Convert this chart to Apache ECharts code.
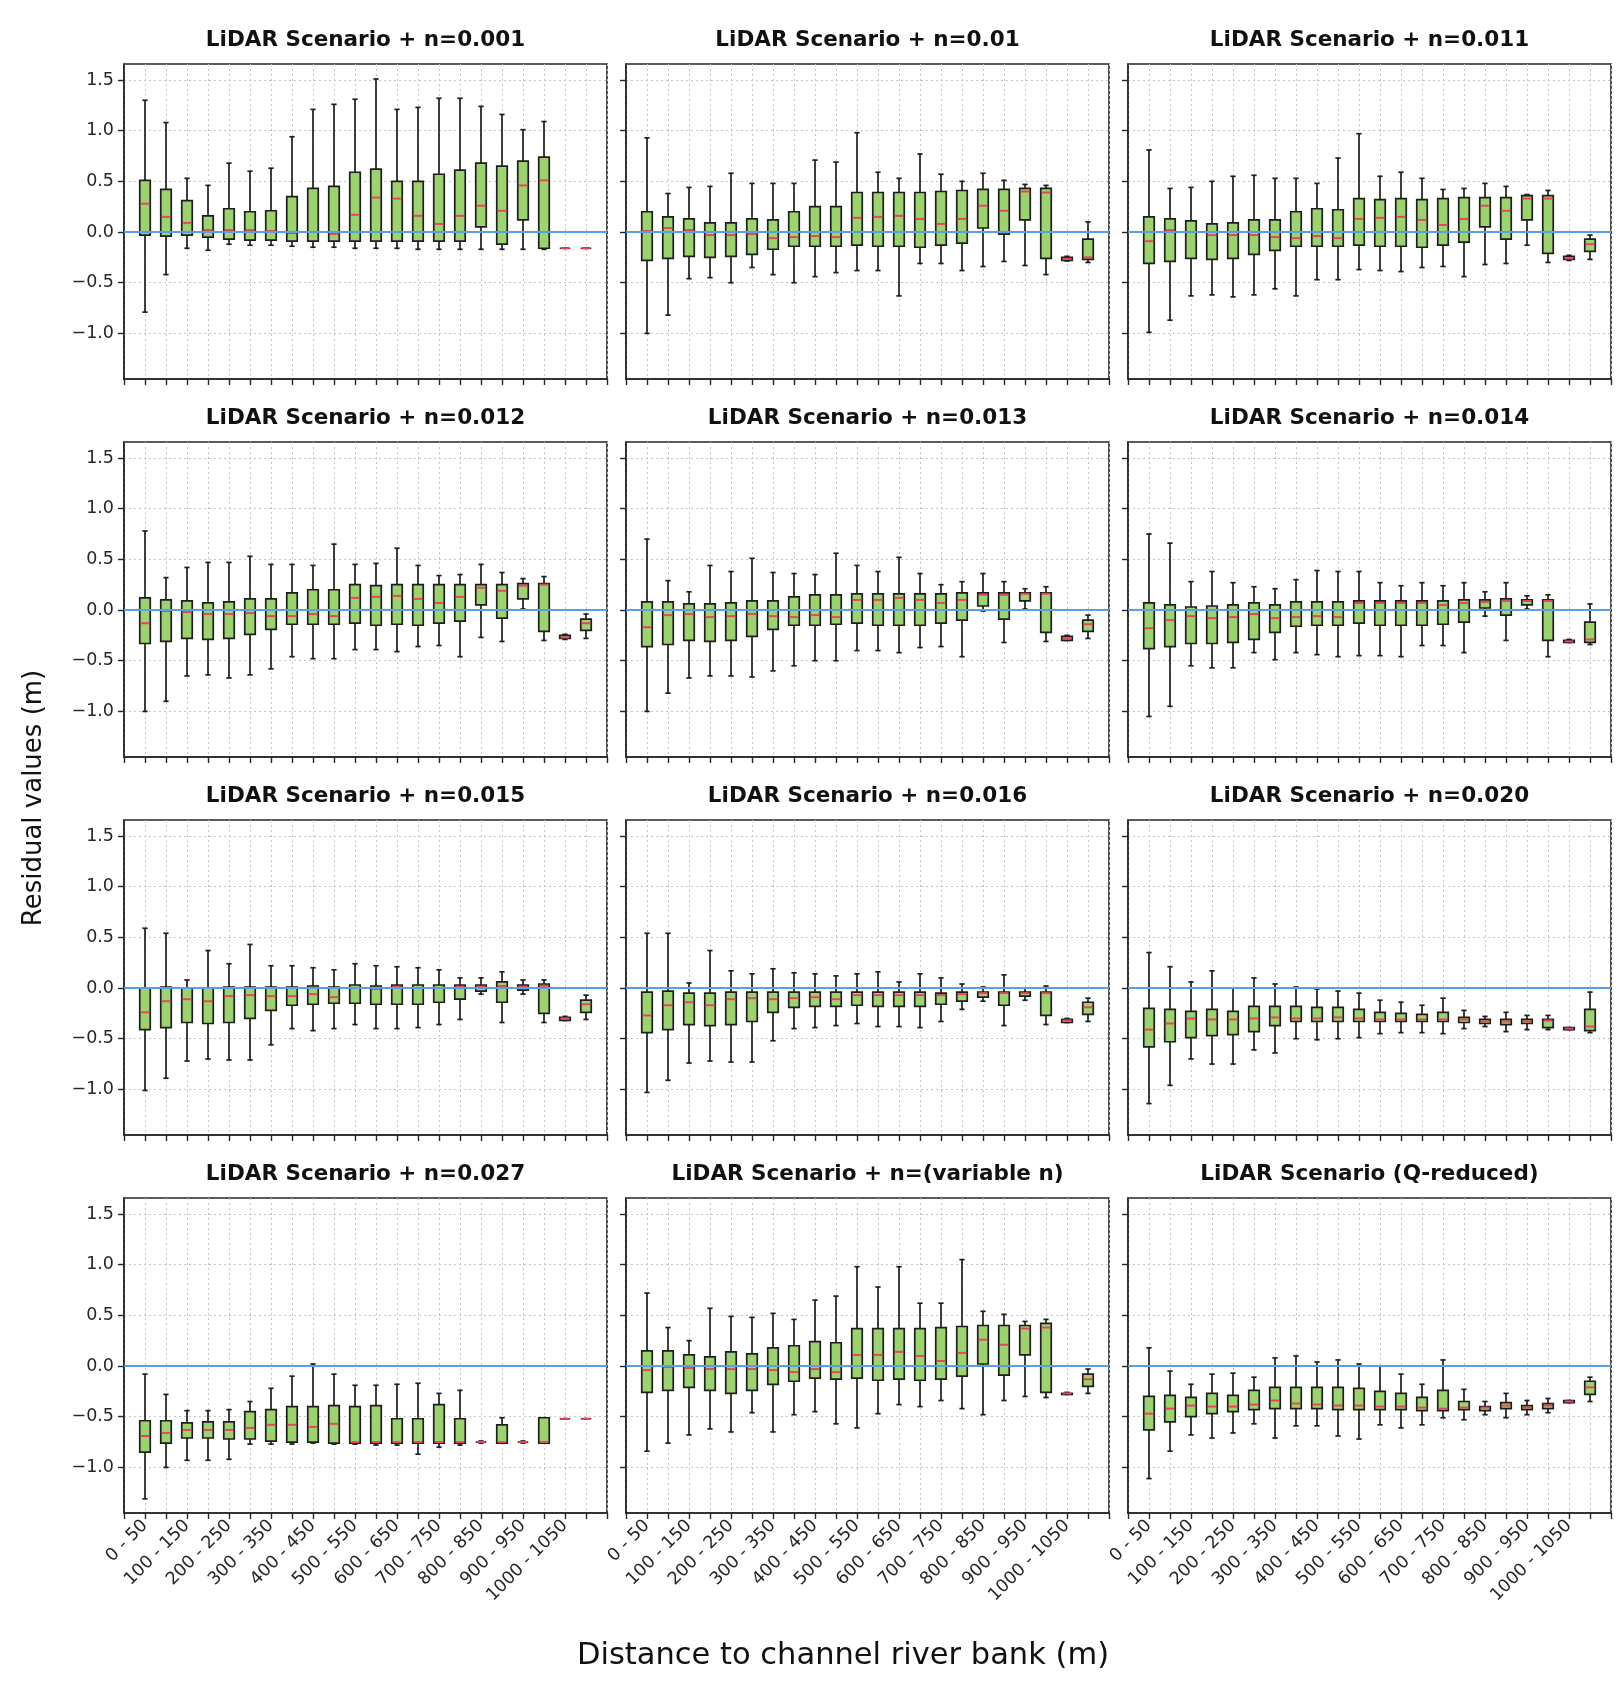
<!DOCTYPE html>
<html>
<head>
<meta charset="utf-8">
<script src="https://cdn.jsdelivr.net/npm/echarts@6/dist/echarts.min.js"></script>
<style>
html,body{margin:0;padding:0;background:#fff;}
#chart{width:1624px;height:1698px;}
</style>
</head>
<body>
<div id="chart"></div>
<script>
// ---------------- DATA ----------------
// distance bins (box positions 1..22)
const distanceBins = ['0 - 50','50 - 100','100 - 150','150 - 200','200 - 250','250 - 300','300 - 350','350 - 400',
  '400 - 450','450 - 500','500 - 550','550 - 600','600 - 650','650 - 700','700 - 750','750 - 800',
  '800 - 850','850 - 900','900 - 950','950 - 1000','1000 - 1050','1050 - 1100'];
const yTickValues = [-1.0, -0.5, 0.0, 0.5, 1.0, 1.5];
const panelTitles = ['LiDAR Scenario + n=0.001','LiDAR Scenario + n=0.01','LiDAR Scenario + n=0.011',
  'LiDAR Scenario + n=0.012','LiDAR Scenario + n=0.013','LiDAR Scenario + n=0.014',
  'LiDAR Scenario + n=0.015','LiDAR Scenario + n=0.016','LiDAR Scenario + n=0.020',
  'LiDAR Scenario + n=0.027','LiDAR Scenario + n=(variable n)','LiDAR Scenario (Q-reduced)'];
const xAxisTitle = 'Distance to channel river bank (m)';
const yAxisTitle = 'Residual values (m)';

// each box: [lower whisker, Q1, median, Q3, upper whisker]
const n0001 = [[-0.79,-0.03,0.28,0.51,1.30],[-0.42,-0.04,0.15,0.42,1.08],[-0.16,-0.03,0.09,0.31,0.53],[-0.18,-0.05,0.02,0.16,0.46],
  [-0.12,-0.07,0.02,0.23,0.68],[-0.13,-0.08,0.02,0.20,0.60],[-0.13,-0.08,0.01,0.21,0.63],[-0.14,-0.09,-0.01,0.35,0.94],
  [-0.15,-0.09,0.00,0.43,1.21],[-0.15,-0.09,-0.02,0.45,1.26],[-0.16,-0.09,0.17,0.59,1.31],[-0.16,-0.09,0.34,0.62,1.51],
  [-0.16,-0.09,0.33,0.50,1.21],[-0.17,-0.09,0.16,0.50,1.23],[-0.17,-0.09,0.08,0.57,1.32],[-0.17,-0.09,0.16,0.61,1.32],
  [-0.17,0.05,0.26,0.68,1.24],[-0.17,-0.12,0.21,0.65,1.16],[-0.17,0.12,0.46,0.70,1.01],[-0.17,-0.16,0.51,0.74,1.09],
  [-0.16,-0.16,-0.16,-0.16,-0.16],[-0.16,-0.16,-0.16,-0.16,-0.16]];
const n0010 = [[-1.00,-0.28,0.01,0.20,0.93],[-0.82,-0.26,0.04,0.15,0.38],[-0.46,-0.24,0.02,0.13,0.44],[-0.45,-0.25,-0.03,0.09,0.45],
  [-0.50,-0.24,-0.03,0.09,0.58],[-0.35,-0.22,-0.02,0.13,0.48],[-0.42,-0.17,-0.06,0.12,0.48],[-0.50,-0.14,-0.05,0.20,0.48],
  [-0.44,-0.14,-0.04,0.25,0.71],[-0.40,-0.14,-0.05,0.25,0.69],[-0.38,-0.13,0.14,0.39,0.98],[-0.38,-0.14,0.15,0.39,0.59],
  [-0.63,-0.14,0.16,0.39,0.53],[-0.31,-0.15,0.13,0.39,0.77],[-0.31,-0.13,0.08,0.40,0.57],[-0.38,-0.11,0.13,0.41,0.50],
  [-0.34,0.04,0.26,0.42,0.58],[-0.29,-0.02,0.21,0.42,0.51],[-0.33,0.12,0.40,0.43,0.47],[-0.42,-0.26,0.39,0.43,0.46],
  [-0.285,-0.28,-0.265,-0.25,-0.24],[-0.30,-0.27,-0.25,-0.07,0.10]];
const n0011 = [[-0.99,-0.31,-0.09,0.15,0.81],[-0.87,-0.29,0.02,0.13,0.43],[-0.63,-0.26,0.00,0.11,0.44],[-0.62,-0.27,-0.03,0.08,0.50],
  [-0.64,-0.26,-0.03,0.09,0.55],[-0.62,-0.22,-0.03,0.12,0.56],[-0.56,-0.18,-0.05,0.12,0.53],[-0.63,-0.14,-0.06,0.20,0.53],
  [-0.47,-0.14,-0.04,0.23,0.48],[-0.47,-0.14,-0.06,0.22,0.73],[-0.37,-0.13,0.13,0.33,0.97],[-0.38,-0.14,0.14,0.32,0.55],
  [-0.39,-0.14,0.15,0.33,0.59],[-0.35,-0.15,0.12,0.32,0.53],[-0.34,-0.13,0.07,0.33,0.42],[-0.44,-0.10,0.13,0.34,0.43],
  [-0.32,0.05,0.26,0.34,0.48],[-0.31,-0.07,0.21,0.34,0.45],[-0.13,0.12,0.33,0.36,0.37],[-0.30,-0.21,0.33,0.36,0.41],
  [-0.28,-0.27,-0.26,-0.24,-0.23],[-0.27,-0.19,-0.12,-0.07,-0.03]];
const n0012 = [[-1.00,-0.33,-0.13,0.12,0.78],[-0.90,-0.31,-0.01,0.10,0.32],[-0.65,-0.28,-0.02,0.09,0.42],[-0.64,-0.29,-0.04,0.07,0.47],
  [-0.67,-0.28,-0.04,0.08,0.47],[-0.64,-0.24,-0.03,0.11,0.53],[-0.58,-0.19,-0.06,0.11,0.45],[-0.46,-0.14,-0.06,0.17,0.45],
  [-0.48,-0.14,-0.04,0.20,0.44],[-0.48,-0.14,-0.06,0.20,0.65],[-0.39,-0.13,0.12,0.25,0.45],[-0.39,-0.15,0.13,0.24,0.46],
  [-0.41,-0.14,0.14,0.25,0.61],[-0.36,-0.15,0.11,0.25,0.44],[-0.35,-0.13,0.07,0.25,0.34],[-0.46,-0.11,0.13,0.25,0.35],
  [-0.27,0.05,0.22,0.25,0.45],[-0.31,-0.08,0.19,0.25,0.37],[0.01,0.11,0.24,0.26,0.31],[-0.30,-0.21,0.25,0.26,0.33],
  [-0.29,-0.28,-0.27,-0.25,-0.24],[-0.28,-0.20,-0.13,-0.09,-0.04]];
const n0013 = [[-1.00,-0.36,-0.17,0.08,0.70],[-0.82,-0.34,-0.05,0.08,0.29],[-0.67,-0.30,-0.04,0.06,0.18],[-0.65,-0.31,-0.07,0.06,0.44],
  [-0.65,-0.30,-0.06,0.07,0.38],[-0.66,-0.26,-0.04,0.09,0.51],[-0.60,-0.19,-0.06,0.09,0.37],[-0.55,-0.15,-0.07,0.13,0.36],
  [-0.50,-0.15,-0.05,0.15,0.35],[-0.50,-0.14,-0.07,0.15,0.56],[-0.40,-0.13,0.10,0.16,0.44],[-0.40,-0.15,0.10,0.16,0.38],
  [-0.42,-0.15,0.12,0.16,0.52],[-0.37,-0.15,0.10,0.16,0.36],[-0.36,-0.13,0.07,0.16,0.25],[-0.46,-0.10,0.10,0.17,0.28],
  [-0.01,0.04,0.15,0.17,0.36],[-0.32,-0.09,0.15,0.17,0.28],[0.01,0.09,0.16,0.17,0.21],[-0.31,-0.22,0.16,0.17,0.23],
  [-0.30,-0.30,-0.28,-0.26,-0.25],[-0.28,-0.21,-0.14,-0.10,-0.05]];
const n0014 = [[-1.05,-0.38,-0.18,0.07,0.75],[-0.95,-0.36,-0.10,0.05,0.66],[-0.55,-0.33,-0.06,0.03,0.28],[-0.57,-0.33,-0.08,0.04,0.38],
  [-0.57,-0.32,-0.07,0.05,0.27],[-0.42,-0.29,-0.04,0.07,0.23],[-0.49,-0.22,-0.08,0.05,0.21],[-0.42,-0.16,-0.07,0.08,0.30],
  [-0.44,-0.15,-0.06,0.08,0.39],[-0.46,-0.15,-0.07,0.08,0.38],[-0.45,-0.13,0.07,0.09,0.38],[-0.45,-0.15,0.07,0.09,0.27],
  [-0.46,-0.15,0.07,0.09,0.24],[-0.35,-0.15,0.07,0.09,0.27],[-0.35,-0.14,0.05,0.09,0.24],[-0.42,-0.12,0.07,0.10,0.27],
  [-0.06,0.02,0.08,0.10,0.18],[-0.30,-0.05,0.09,0.11,0.27],[0.01,0.05,0.09,0.10,0.14],[-0.46,-0.30,0.09,0.10,0.15],
  [-0.32,-0.32,-0.31,-0.30,-0.29],[-0.34,-0.32,-0.29,-0.12,0.06]];
const n0015 = [[-1.01,-0.41,-0.24,0.00,0.59],[-0.89,-0.39,-0.13,0.01,0.54],[-0.72,-0.34,-0.11,0.00,0.08],[-0.70,-0.35,-0.13,0.00,0.37],
  [-0.71,-0.34,-0.08,0.01,0.24],[-0.71,-0.30,-0.07,0.01,0.43],[-0.56,-0.22,-0.08,0.01,0.22],[-0.40,-0.17,-0.08,0.01,0.22],
  [-0.42,-0.16,-0.06,0.02,0.20],[-0.40,-0.15,-0.09,0.01,0.18],[-0.36,-0.15,0.00,0.03,0.24],[-0.40,-0.16,-0.01,0.02,0.22],
  [-0.40,-0.16,0.01,0.03,0.21],[-0.39,-0.16,0.00,0.03,0.20],[-0.36,-0.14,0.00,0.03,0.18],[-0.31,-0.11,0.01,0.03,0.10],
  [-0.06,-0.03,0.01,0.03,0.10],[-0.34,-0.14,0.02,0.06,0.16],[-0.06,-0.02,0.01,0.03,0.08],[-0.34,-0.25,0.02,0.04,0.08],
  [-0.32,-0.32,-0.30,-0.29,-0.28],[-0.31,-0.24,-0.16,-0.12,-0.07]];
const n0016 = [[-1.03,-0.44,-0.27,-0.04,0.54],[-0.91,-0.41,-0.17,-0.03,0.54],[-0.74,-0.36,-0.14,-0.05,0.05],[-0.72,-0.37,-0.17,-0.05,0.37],
  [-0.73,-0.36,-0.11,-0.04,0.17],[-0.73,-0.33,-0.10,-0.04,0.14],[-0.52,-0.24,-0.11,-0.04,0.19],[-0.40,-0.19,-0.10,-0.04,0.15],
  [-0.39,-0.18,-0.09,-0.04,0.14],[-0.37,-0.18,-0.11,-0.04,0.12],[-0.35,-0.17,-0.07,-0.04,0.14],[-0.38,-0.18,-0.07,-0.04,0.16],
  [-0.38,-0.18,-0.07,-0.04,0.06],[-0.39,-0.18,-0.07,-0.04,0.14],[-0.33,-0.16,-0.07,-0.05,0.10],[-0.21,-0.13,-0.06,-0.04,0.04],
  [-0.13,-0.09,-0.05,-0.04,0.01],[-0.37,-0.17,-0.05,-0.04,0.13],[-0.12,-0.08,-0.05,-0.04,0.00],[-0.36,-0.27,-0.05,-0.04,0.02],
  [-0.34,-0.34,-0.32,-0.31,-0.30],[-0.33,-0.26,-0.19,-0.14,-0.10]];
const n0020 = [[-1.14,-0.58,-0.41,-0.20,0.35],[-0.96,-0.53,-0.35,-0.21,0.21],[-0.70,-0.49,-0.30,-0.23,0.06],[-0.75,-0.47,-0.31,-0.21,0.17],
  [-0.75,-0.46,-0.31,-0.23,0.00],[-0.61,-0.43,-0.30,-0.18,0.10],[-0.64,-0.37,-0.29,-0.18,0.04],[-0.50,-0.33,-0.30,-0.18,0.01],
  [-0.51,-0.33,-0.30,-0.19,-0.01],[-0.50,-0.33,-0.29,-0.19,-0.03],[-0.49,-0.33,-0.30,-0.21,-0.05],[-0.45,-0.33,-0.31,-0.24,-0.12],
  [-0.44,-0.33,-0.31,-0.25,-0.14],[-0.44,-0.33,-0.31,-0.26,-0.17],[-0.45,-0.33,-0.31,-0.24,-0.10],[-0.40,-0.34,-0.31,-0.29,-0.22],
  [-0.38,-0.35,-0.33,-0.31,-0.28],[-0.43,-0.36,-0.33,-0.31,-0.24],[-0.41,-0.35,-0.33,-0.31,-0.27],[-0.41,-0.39,-0.32,-0.31,-0.27],
  [-0.41,-0.41,-0.40,-0.39,-0.39],[-0.44,-0.42,-0.38,-0.21,-0.04]];
const n0027 = [[-1.31,-0.85,-0.69,-0.54,-0.08],[-1.00,-0.76,-0.66,-0.54,-0.28],[-0.93,-0.71,-0.63,-0.56,-0.44],[-0.93,-0.71,-0.63,-0.55,-0.44],
  [-0.92,-0.72,-0.63,-0.55,-0.43],[-0.77,-0.72,-0.61,-0.45,-0.35],[-0.77,-0.74,-0.58,-0.43,-0.22],[-0.77,-0.75,-0.58,-0.40,-0.10],
  [-0.76,-0.75,-0.60,-0.40,0.02],[-0.77,-0.76,-0.57,-0.39,-0.08],[-0.77,-0.76,-0.75,-0.40,-0.19],[-0.78,-0.76,-0.75,-0.39,-0.19],
  [-0.78,-0.76,-0.75,-0.52,-0.18],[-0.87,-0.76,-0.75,-0.52,-0.17],[-0.80,-0.76,-0.75,-0.38,-0.27],[-0.78,-0.76,-0.75,-0.52,-0.24],
  [-0.76,-0.75,-0.75,-0.75,-0.74],[-0.76,-0.76,-0.75,-0.58,-0.51],[-0.76,-0.75,-0.75,-0.75,-0.74],[-0.76,-0.76,-0.75,-0.51,-0.51],
  [-0.52,-0.52,-0.52,-0.52,-0.52],[-0.52,-0.52,-0.52,-0.52,-0.52]];
const nVariable = [[-0.84,-0.26,-0.04,0.15,0.72],[-0.76,-0.24,-0.01,0.15,0.38],[-0.68,-0.21,-0.02,0.11,0.25],[-0.62,-0.24,-0.03,0.09,0.57],
  [-0.65,-0.27,-0.03,0.14,0.49],[-0.46,-0.24,-0.03,0.12,0.48],[-0.65,-0.18,-0.04,0.18,0.52],[-0.48,-0.15,-0.06,0.20,0.46],
  [-0.45,-0.12,-0.03,0.24,0.65],[-0.57,-0.13,-0.06,0.23,0.69],[-0.61,-0.12,0.11,0.37,0.98],[-0.47,-0.14,0.11,0.37,0.78],
  [-0.38,-0.13,0.14,0.37,0.98],[-0.40,-0.14,0.10,0.37,0.62],[-0.34,-0.13,0.05,0.38,0.62],[-0.42,-0.10,0.13,0.39,1.05],
  [-0.48,0.02,0.26,0.40,0.54],[-0.34,-0.09,0.21,0.40,0.51],[-0.30,0.11,0.37,0.40,0.44],[-0.31,-0.26,0.38,0.42,0.46],
  [-0.28,-0.28,-0.27,-0.27,-0.26],[-0.27,-0.20,-0.13,-0.08,-0.03]];
const qReduced = [[-1.11,-0.63,-0.47,-0.30,0.18],[-0.84,-0.55,-0.42,-0.29,-0.05],[-0.68,-0.50,-0.39,-0.31,-0.18],[-0.71,-0.47,-0.40,-0.27,-0.08],
  [-0.66,-0.45,-0.40,-0.29,-0.07],[-0.57,-0.43,-0.38,-0.24,-0.11],[-0.71,-0.42,-0.34,-0.21,0.08],[-0.59,-0.42,-0.37,-0.21,0.10],
  [-0.59,-0.42,-0.38,-0.21,0.04],[-0.69,-0.43,-0.39,-0.21,0.06],[-0.72,-0.43,-0.39,-0.22,0.02],[-0.58,-0.43,-0.40,-0.25,0.00],
  [-0.61,-0.43,-0.40,-0.27,-0.08],[-0.58,-0.44,-0.41,-0.31,-0.18],[-0.51,-0.44,-0.42,-0.24,0.06],[-0.53,-0.43,-0.41,-0.35,-0.23],
  [-0.48,-0.44,-0.41,-0.40,-0.35],[-0.51,-0.42,-0.39,-0.36,-0.27],[-0.48,-0.43,-0.41,-0.39,-0.34],[-0.46,-0.42,-0.39,-0.37,-0.32],
  [-0.36,-0.36,-0.35,-0.34,-0.34],[-0.35,-0.28,-0.21,-0.15,-0.11]];

const panelData = [n0001, n0010, n0011, n0012, n0013, n0014, n0015, n0016, n0020, n0027, nVariable, qReduced];

// ---------------- LAYOUT / STYLE ----------------
const FONT = '"DejaVu Sans", "Liberation Sans", sans-serif';
const colLeft = [124, 626, 1128];
const rowTop = [64, 442, 820, 1198];
const PW = 483, PH = 315;
const Y_MIN = -1.45, Y_MAX = 1.658;
const X_MIN = 0, X_MAX = 23;
const BOX_FILL = '#9dd271';
const EDGE = '#1e1e1e';
const MEDIAN = '#e8455f';
const ZERO_LINE = '#5a9fe4';
const GRID_LINE = '#c6c6c6';

function renderBox(params, api) {
  const x = api.value(0);
  const pLo = api.coord([x, api.value(1)]);
  const pQ1 = api.coord([x, api.value(2)]);
  const pMd = api.coord([x, api.value(3)]);
  const pQ3 = api.coord([x, api.value(4)]);
  const pHi = api.coord([x, api.value(5)]);
  const unit = api.size([1, 0])[0];
  const bw = unit * 0.5, cw = unit * 0.25;
  const cx = pMd[0];
  const lw = 1.7;
  return {
    type: 'group',
    children: [
      {type: 'line', shape: {x1: cx, y1: pHi[1], x2: cx, y2: pQ3[1]}, style: {stroke: EDGE, lineWidth: lw}},
      {type: 'line', shape: {x1: cx, y1: pQ1[1], x2: cx, y2: pLo[1]}, style: {stroke: EDGE, lineWidth: lw}},
      {type: 'line', shape: {x1: cx - cw / 2, y1: pHi[1], x2: cx + cw / 2, y2: pHi[1]}, style: {stroke: EDGE, lineWidth: lw}},
      {type: 'line', shape: {x1: cx - cw / 2, y1: pLo[1], x2: cx + cw / 2, y2: pLo[1]}, style: {stroke: EDGE, lineWidth: lw}},
      {type: 'rect', shape: {x: cx - bw / 2, y: pQ3[1], width: bw, height: pQ1[1] - pQ3[1]},
        style: {fill: BOX_FILL, stroke: EDGE, lineWidth: lw}},
      {type: 'line', shape: {x1: cx - bw / 2 + 1, y1: pMd[1], x2: cx + bw / 2 - 1, y2: pMd[1]}, style: {stroke: MEDIAN, lineWidth: 2}}
    ]
  };
}

const grids = [], xAxes = [], yAxes = [], series = [], graphics = [];
panelData.forEach((boxes, i) => {
  const r = Math.floor(i / 3), c = i % 3;
  const left = colLeft[c], top = rowTop[r];
  grids.push({left: left, top: top, width: PW, height: PH, show: true, borderColor: '#262626', borderWidth: 1.6,
    backgroundColor: '#fff', containLabel: false, outerBoundsMode: 'none'});
  const bottomRow = r === 3;
  xAxes.push({
    type: 'value', gridIndex: i, min: X_MIN, max: X_MAX, interval: 1,
    axisLine: {show: true, onZero: false, lineStyle: {color: '#262626', width: 1.6}},
    axisTick: {show: true, length: 6, lineStyle: {color: '#262626', width: 1.4}},
    splitLine: {show: true, lineStyle: {color: GRID_LINE, type: [2, 3], width: 1}},
    axisLabel: {
      show: bottomRow, rotate: 45, margin: 10, fontSize: 17.5, color: '#262626', fontFamily: FONT,
      formatter: function (v) { return (v >= 1 && v <= 21 && v % 2 === 1) ? distanceBins[v - 1] : ''; }
    }
  });
  yAxes.push({
    type: 'value', gridIndex: i, min: Y_MIN, max: Y_MAX,
    axisLine: {show: true, onZero: false, lineStyle: {color: '#262626', width: 1.6}},
    axisTick: {show: true, length: 6, customValues: yTickValues, lineStyle: {color: '#262626', width: 1.4}},
    splitLine: {show: true, lineStyle: {color: GRID_LINE, type: [2, 3], width: 1}},
    axisLabel: {
      show: c === 0, customValues: yTickValues, margin: 10, fontSize: 17.5, color: '#262626', fontFamily: FONT,
      formatter: function (v) { return v.toFixed(1).replace('-', '\u2212'); }
    }
  });
  series.push({
    type: 'custom', xAxisIndex: i, yAxisIndex: i, z: 3, silent: true,
    renderItem: renderBox,
    encode: {x: 0, y: [1, 2, 3, 4, 5]},
    data: boxes.map((b, k) => [k + 1, b[0], b[1], b[2], b[3], b[4]])
  });
  series.push({
    type: 'line', xAxisIndex: i, yAxisIndex: i, z: 5, silent: true, symbol: 'none',
    lineStyle: {color: ZERO_LINE, width: 2},
    data: [[X_MIN, 0], [X_MAX, 0]]
  });
  graphics.push({
    type: 'text', x: left + PW / 2, y: top - 24,
    style: {text: panelTitles[i], font: 'bold 21.5px ' + FONT, fill: '#111', textAlign: 'center', textVerticalAlign: 'middle'}
  });
});
graphics.push({
  type: 'text', x: 843, y: 1656,
  style: {text: xAxisTitle, font: '30.5px ' + FONT, fill: '#111', textAlign: 'center', textVerticalAlign: 'middle'}
});
graphics.push({
  type: 'text', x: 34, y: 798, rotation: Math.PI / 2,
  style: {text: yAxisTitle, font: '26px ' + FONT, fill: '#111', textAlign: 'center', textVerticalAlign: 'middle'}
});

const chart = echarts.init(document.getElementById('chart'), null, {renderer: 'canvas'});
chart.setOption({
  animation: false,
  backgroundColor: '#fff',
  textStyle: {fontFamily: FONT},
  grid: grids,
  xAxis: xAxes,
  yAxis: yAxes,
  series: series,
  graphic: graphics
});
</script>
</body>
</html>
